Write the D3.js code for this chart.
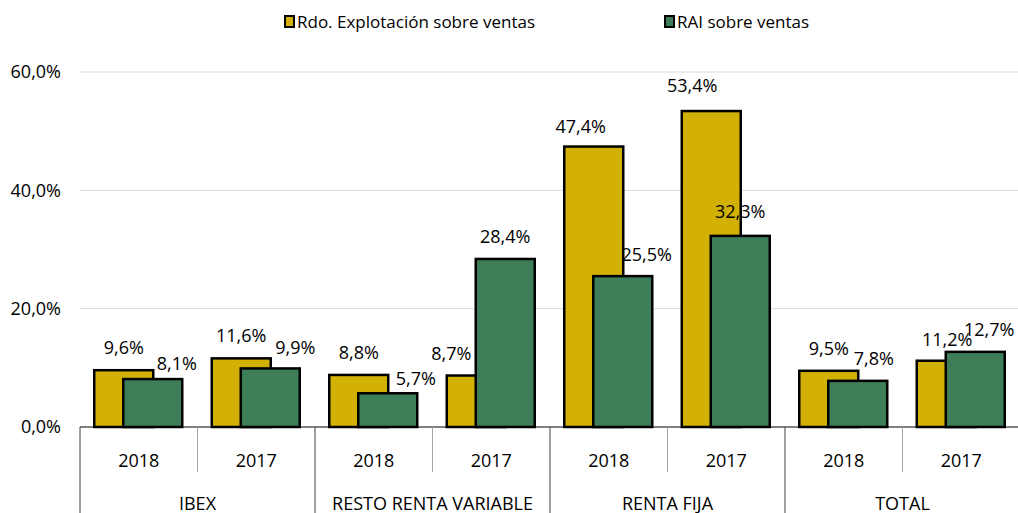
<!DOCTYPE html>
<html>
<head>
<meta charset="utf-8">
<script src="https://cdn.jsdelivr.net/npm/d3@7"></script>
<style>
  body { margin: 0; background: #fff; }
  text { font-family: "Open Sans", sans-serif; fill: #000; }
</style>
</head>
<body>
<div id="chart"></div>
<script>
// data
const groups = ["IBEX", "RESTO RENTA VARIABLE", "RENTA FIJA", "TOTAL"];
const years = ["2018", "2017"];
const series = ["Rdo. Explotación sobre ventas", "RAI sobre ventas"];
const rdoExplotacion = [9.6, 11.6, 8.8, 8.7, 47.4, 53.4, 9.5, 11.2];
const raiVentas = [8.1, 9.9, 5.7, 28.4, 25.5, 32.3, 7.8, 12.7];
const yTicks = [0, 20, 40, 60];

// label nudges (px) where the original labels were moved to avoid overlap
const nudgeRdo = [[0, 0], [0, 0], [0, 0], [-25, 0], [-13, 2], [-19, -3], [0, 0], [1, 1]];
const nudgeRai = [[24, 7], [25, 2], [28, 8], [0, 0], [24, 1], [0, -2], [16, 0], [14, 0]];

const width = 1018;
const height = 513;
const colors = ["#d2b004", "#3d7d58"];

const svg = d3.select("#chart")
  .append("svg")
  .attr("width", width)
  .attr("height", height);

// one band per group/year pair
const cells = [];
groups.forEach(g => years.forEach(y => cells.push(g + "|" + y)));

const x = d3.scaleBand().domain(cells).range([80, 1020]).padding(0);
const y = d3.scaleLinear().domain([0, 60]).range([427, 72]);
const offset = d3.scalePoint().domain(series).range([-15, 14]);
const barW = 59;

const es = d3.formatLocale({ decimal: ",", thousands: ".", grouping: [3], currency: ["", "€"] });
const fmt = d => es.format(".1f")(d) + "%";

// gridlines
svg.append("g")
  .selectAll("line")
  .data(yTicks.filter(d => d > 0))
  .join("line")
  .attr("x1", 80)
  .attr("x2", width)
  .attr("y1", d => y(d))
  .attr("y2", d => y(d))
  .attr("stroke", "#d9d9d9")
  .attr("stroke-width", 1);

// y axis labels
const yAxis = svg.append("g")
  .attr("transform", "translate(80,0)")
  .call(d3.axisLeft(y).tickValues(yTicks).tickSize(0).tickPadding(19).tickFormat(fmt));
yAxis.select(".domain").remove();
yAxis.selectAll("text")
  .style("font-family", "Open Sans")
  .style("font-size", "18px")
  .attr("fill", "#000");

// bars
const valueSets = [rdoExplotacion, raiVentas];
valueSets.forEach((vals, si) => {
  svg.append("g")
    .selectAll("rect")
    .data(vals)
    .join("rect")
    .attr("x", (d, i) => x(cells[i]) + x.bandwidth() / 2 + offset(series[si]) - barW / 2)
    .attr("y", d => y(d))
    .attr("width", barW)
    .attr("height", d => y(0) - y(d))
    .attr("fill", colors[si])
    .attr("stroke", "#000")
    .attr("stroke-width", 2.5);
});

// x axis baseline
svg.append("line")
  .attr("x1", 80)
  .attr("x2", width)
  .attr("y1", y(0))
  .attr("y2", y(0))
  .attr("stroke", "#000")
  .attr("stroke-width", 1.2);

// data labels
const nudges = [nudgeRdo, nudgeRai];
valueSets.forEach((vals, si) => {
  svg.append("g")
    .selectAll("text")
    .data(vals)
    .join("text")
    .attr("x", (d, i) => x(cells[i]) + x.bandwidth() / 2 + offset(series[si]) + nudges[si][i][0])
    .attr("y", (d, i) => y(d) - 16 + nudges[si][i][1])
    .attr("text-anchor", "middle")
    .style("font-size", "18px")
    .text(d => fmt(d));
});

// category separators
svg.append("g")
  .selectAll("line")
  .data(cells.filter((c, i) => i % 2 === 1))
  .join("line")
  .attr("x1", d => x(d))
  .attr("x2", d => x(d))
  .attr("y1", y(0))
  .attr("y2", 472)
  .attr("stroke", "#a6a6a6")
  .attr("stroke-width", 1);

svg.append("g")
  .selectAll("line")
  .data(cells.filter((c, i) => i % 2 === 0))
  .join("line")
  .attr("x1", d => x(d))
  .attr("x2", d => x(d))
  .attr("y1", y(0))
  .attr("y2", height)
  .attr("stroke", "#404040")
  .attr("stroke-width", 1);

// year labels
svg.append("g")
  .selectAll("text")
  .data(cells)
  .join("text")
  .attr("x", d => x(d) + x.bandwidth() / 2)
  .attr("y", 467)
  .attr("text-anchor", "middle")
  .style("font-size", "18px")
  .text(d => d.split("|")[1]);

// group labels
svg.append("g")
  .selectAll("text")
  .data(groups)
  .join("text")
  .attr("x", g => x(g + "|" + years[0]))
  .attr("dx", x.bandwidth())
  .attr("y", 510)
  .attr("text-anchor", "middle")
  .style("font-size", "18px")
  .text(g => g);

// legend
const legendX = [285, 665];
const legend = svg.append("g")
  .selectAll("g")
  .data(series)
  .join("g")
  .attr("transform", (d, i) => "translate(" + legendX[i] + ",16)");
legend.append("rect")
  .attr("width", 9)
  .attr("height", 11)
  .attr("fill", (d, i) => colors[i])
  .attr("stroke", "#000")
  .attr("stroke-width", 2);
legend.append("text")
  .attr("x", 12)
  .attr("y", 12)
  .style("font-size", "17px")
  .text(d => d);
</script>
</body>
</html>
